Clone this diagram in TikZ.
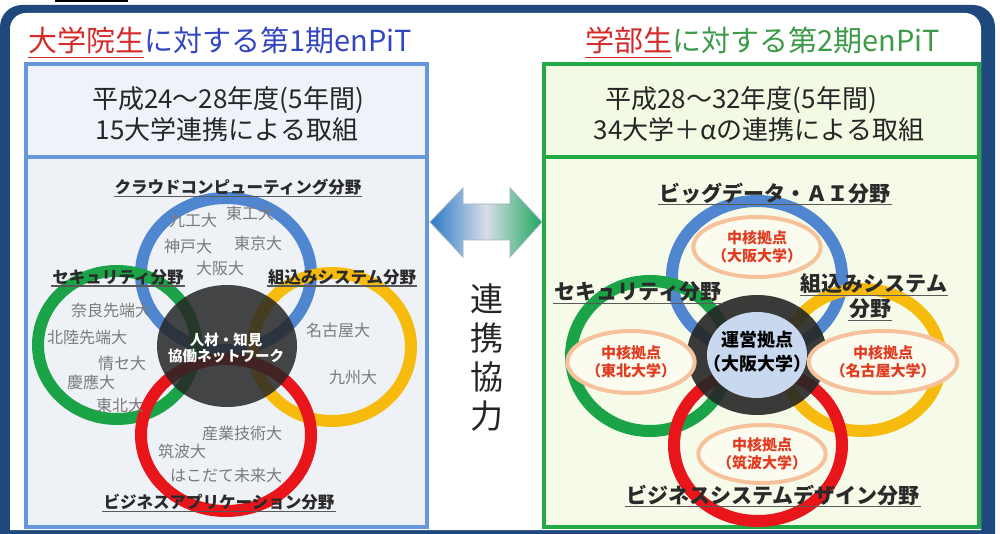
\documentclass[tikz,border=0pt]{standalone}
\usepackage{fontspec}
\setmainfont{Noto Sans CJK JP}
\usetikzlibrary{shapes.geometric}
\definecolor{frameblue}{HTML}{1F497D}
\definecolor{tblue}{HTML}{3346C0}
\definecolor{tred}{HTML}{D42A2A}
\definecolor{tgreen}{HTML}{3C9A48}
\definecolor{lborder}{HTML}{6597DA}
\definecolor{lhead}{HTML}{EEF3FA}
\definecolor{lbody}{HTML}{EEF2F7}
\definecolor{gborder}{HTML}{22A845}
\definecolor{ghead}{HTML}{F2FAE3}
\definecolor{gbody}{HTML}{F5FBE8}
\definecolor{ringblue}{HTML}{4F86CF}
\definecolor{ringgreen}{HTML}{1BA348}
\definecolor{ringyellow}{HTML}{F7BB0E}
\definecolor{ringred}{HTML}{E8151B}
\definecolor{disc}{HTML}{262626}
\definecolor{hubedge}{HTML}{F6C29C}
\definecolor{hubfill}{HTML}{FBFBEF}
\definecolor{hubtext}{HTML}{E03A20}
\definecolor{centerfill}{HTML}{C8D8EF}
\definecolor{unigray}{HTML}{7A7A7A}
\definecolor{lbltext}{HTML}{2A2A2A}
\definecolor{arrowL}{HTML}{2A78C6}
\definecolor{arrowM}{HTML}{D8DEE8}
\definecolor{arrowR}{HTML}{1DA85C}
\newcommand{\fsz}[1]{\fontsize{#1}{#1}\selectfont}
\begin{document}
\begin{tikzpicture}[x=1pt,y=-1pt,
  ring/.style={line width=12},
  uni/.style={inner sep=0, text=unigray, font=\fsz{16}},
  llabel/.style={inner sep=1, text=lbltext, font=\fsz{16.5}\bfseries},
  rlabel/.style={inner sep=1, text=lbltext, font=\fsz{21}\bfseries},
  ulline/.style={line width=1.2, draw=black!65},
  headtxt/.style={inner sep=0, text=black!85, font=\fsz{26}},
  titletxt/.style={inner sep=0, font=\fsz{29}},
  hub/.style={ellipse, draw=hubedge, line width=4, fill=hubfill, text=hubtext,
    font=\fsz{15}\bfseries, align=center, inner sep=0},
]
\useasboundingbox (0,0) rectangle (1000,534);
% outer frame
\fill[white] (0,0) rectangle (1000,534);
\fill[black] (55,0) rectangle (128,2.5);
\fill[frameblue, rounded corners=22] (0,5) rectangle (995,570);
\fill[white] (10,530) [rounded corners=16] -- (10,13) -- (981,13) [sharp corners] -- (981,530) -- cycle;

% titles
\node[titletxt, anchor=base west, text=tred] (t1a) at (28,52) {大学院生};
\node[titletxt, anchor=base west, text=tblue] (t1b) at (t1a.base east) {に対する第1期enPiT};
\draw[tred, line width=1.5] ([yshift=-3]t1a.south west) -- ([yshift=-3]t1a.south east);
\node[titletxt, anchor=base west, text=tred] (t2a) at (585,52) {学部生};
\node[titletxt, anchor=base west, text=tgreen] (t2b) at (t2a.base east) {に対する第2期enPiT};
\draw[tred, line width=1.5] ([yshift=-3]t2a.south west) -- ([yshift=-3]t2a.south east);

% left panel
\filldraw[draw=lborder, line width=4, fill=lhead] (26,64) rectangle (427,157);
\filldraw[draw=lborder, line width=4, fill=lbody] (26,157) rectangle (427,527);
\node[headtxt] (lh1) at (228,100) {平成24～28年度(5年間)};
\node[headtxt] (lh2) at (227,130) {15大学連携による取組};

% right panel
\filldraw[draw=gborder, line width=4, fill=ghead] (544,64) rectangle (979,157);
\filldraw[draw=gborder, line width=4, fill=gbody] (544,157) rectangle (979,527);
\node[headtxt] (rh1) at (741,100) {平成28～32年度(5年間)};
\node[headtxt] (rh2) at (759,130) {34大学＋αの連携による取組};

% left Venn
\draw[ring, ringblue] (226,274) ellipse [x radius=85, y radius=76];
\draw[ring, ringgreen] (117,345) ellipse [x radius=79, y radius=74];
\draw[ring, ringyellow] (332,347) ellipse [x radius=79, y radius=74];
\draw[ring, ringred] (226,435) ellipse [x radius=85, y radius=76];
\fill[disc, opacity=0.85] (227,346) ellipse [x radius=70, y radius=61];
\node[inner sep=0, text=white, font=\fsz{14.5}\bfseries, align=center] (net) at (226,348) {人材・知見\\[2pt]協働ネットワーク};

\node[llabel] (lcloud) at (238,187) {クラウドコンピューティング分野};
\draw[ulline] (lcloud.south west) -- (lcloud.south east);
\node[llabel] (lsec) at (118,277) {セキュリティ分野};
\draw[ulline] (lsec.south west) -- (lsec.south east);
\node[llabel] (lemb) at (342,277) {組込みシステム分野};
\draw[ulline] (lemb.south west) -- (lemb.south east);
\node[llabel] (lbiz) at (219,502) {ビジネスアプリケーション分野};
\draw[ulline] (lbiz.south west) -- (lbiz.south east);

\node[uni] (u1) at (193,220) {九工大};
\node[uni] (u2) at (250,213) {東工大};
\node[uni] (u3) at (188,246) {神戸大};
\node[uni] (u4) at (258,243) {東京大};
\node[uni] (u5) at (220,268) {大阪大};
\node[uni] (u6) at (111,310) {奈良先端大};
\node[uni] (u7) at (87,337) {北陸先端大};
\node[uni] (u8) at (122,363) {情セ大};
\node[uni] (u9) at (91,382) {慶應大};
\node[uni] (u10) at (120,405) {東北大};
\node[uni] (u11) at (338,330) {名古屋大};
\node[uni] (u12) at (353,377) {九州大};
\node[uni] (u13) at (242,433) {産業技術大};
\node[uni] (u14) at (182,451) {筑波大};
\node[uni] (u15) at (226,475) {はこだて未来大};

% middle arrow
\shade[left color=arrowL, right color=arrowR, middle color=arrowM]
  (430,222) -- (463,188) -- (463,204) -- (510,204) -- (510,188) -- (542,222)
  -- (510,257) -- (510,240) -- (463,240) -- (463,257) -- cycle;
\draw[line width=0.8, draw=arrowL!40!gray!60]
  (430,222) -- (463,188) -- (463,204) -- (510,204) -- (510,188) -- (542,222)
  -- (510,257) -- (510,240) -- (463,240) -- (463,257) -- cycle;
\node[inner sep=0, align=center, text=black!85, font=\fontsize{33}{39}\selectfont] (renkei) at (487,358) {連\\携\\協\\力};

% right Venn
\draw[ring, ringblue] (757,277) ellipse [x radius=85, y radius=76];
\draw[ring, ringgreen] (650,356) ellipse [x radius=79, y radius=75];
\draw[ring, ringyellow] (862,360) ellipse [x radius=79, y radius=71];
\draw[ring, ringred] (758,445) ellipse [x radius=84, y radius=76];
\fill[disc, opacity=0.9] (757,355) ellipse [x radius=70, y radius=60];
\fill[centerfill] (757,355) ellipse [x radius=50, y radius=43];
\node[inner sep=0, align=center, text=black, font=\fsz{18}\bfseries] (core) at (757,352) {運営拠点\\[6pt]（大阪大学）};

\node[hub, minimum width=94pt, minimum height=60pt] (hubT) at (757,247) {中核拠点\\[3pt]（大阪大学）};
\node[hub, minimum width=88pt, minimum height=62pt] (hubL) at (631,362) {中核拠点\\[3pt]（東北大学）};
\node[hub, minimum width=96pt, minimum height=62pt] (hubR) at (883,362) {中核拠点\\[3pt]（名古屋大学）};
\node[hub, minimum width=90pt, minimum height=58pt] (hubB) at (762,454) {中核拠点\\[3pt]（筑波大学）};

\node[rlabel] (rbig) at (775,193) {ビッグデータ・ＡＩ分野};
\draw[ulline] (rbig.south west) -- (rbig.south east);
\node[rlabel] (rsec) at (638,292) {セキュリティ分野};
\draw[ulline] (rsec.south west) -- (rsec.south east);
\node[rlabel] (remb) at (874,284) {組込みシステム};
\draw[ulline] (remb.south west) -- (remb.south east);
\node[rlabel] (remb2) at (870,309) {分野};
\draw[ulline] (remb2.south west) -- (remb2.south east);
\node[rlabel] (rbiz) at (773,495) {ビジネスシステムデザイン分野};
\draw[ulline] (rbiz.south west) -- (rbiz.south east);
\end{tikzpicture}
\end{document}
